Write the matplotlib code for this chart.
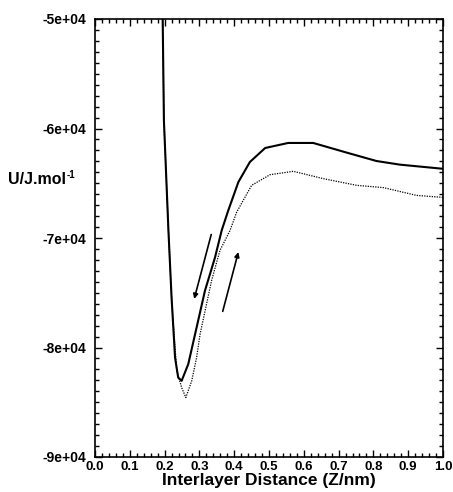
import numpy as np
import matplotlib
matplotlib.use('Agg')
import matplotlib.pyplot as plt
from matplotlib.ticker import MultipleLocator, FuncFormatter

# 层间距离 (nm) 和势能 (J/mol)
z_solid = [0.1937, 0.1945, 0.198, 0.211, 0.220, 0.230, 0.239, 0.249, 0.268, 0.292,
           0.316, 0.345, 0.364, 0.383, 0.412, 0.445, 0.489, 0.555, 0.627, 0.733,
           0.809, 0.876, 1.0]
u_solid = [-48000, -50000, -59245, -69310, -75420, -80910, -82740, -83040, -81515, -78165,
           -74810, -71760, -69310, -67480, -64890, -63060, -61780, -61320, -61320, -62290,
           -62970, -63300, -63680]

z_dot = [0.1937, 0.1945, 0.198, 0.211, 0.220, 0.223, 0.235, 0.249, 0.261, 0.278, 0.292,
         0.302, 0.335, 0.359, 0.388, 0.407, 0.450, 0.503, 0.570, 0.656, 0.752,
         0.829, 0.924, 1.0]
u_dot = [-48000, -50000, -59245, -69310, -75420, -76940, -82130, -83660, -84570, -83040, -80910,
         -78770, -73890, -71140, -69310, -67640, -65190, -64220, -63910, -64580, -65190,
         -65400, -66110, -66290]

# 箭头 (起点, 终点)
arrow_down = [(0.334, -69680), (0.285, -75570)]
arrow_up = [(0.367, -76700), (0.412, -71280)]

plt.rcParams['font.family'] = ['Liberation Sans', 'DejaVu Sans']
plt.rcParams['font.weight'] = 'bold'

fig = plt.figure(figsize=(4.53, 4.92), dpi=100)
ax = fig.add_axes([95 / 453, 35 / 492, 348 / 453, 438 / 492])

ax.plot(z_solid, u_solid, color='black', lw=1.5)
ax.plot(z_dot, u_dot, color='black', lw=0.9, ls=(0, (1, 1)))

for a in (arrow_down, arrow_up):
    ax.annotate('', xy=a[1], xytext=a[0],
                arrowprops=dict(arrowstyle='-|>', color='black', lw=1.2,
                                mutation_scale=7, shrinkA=0, shrinkB=0))

ax.set_xlim(0, 1.0)
ax.set_ylim(-90000, -50000)
ax.xaxis.set_major_locator(MultipleLocator(0.1))
ax.xaxis.set_minor_locator(MultipleLocator(0.02))
ax.yaxis.set_major_locator(MultipleLocator(10000))
ax.yaxis.set_minor_locator(MultipleLocator(1000))
ax.xaxis.set_major_formatter(FuncFormatter(lambda v, p: '%.1f' % v))
ax.yaxis.set_major_formatter(FuncFormatter(lambda v, p: '%.0e' % v))

ax.tick_params(which='both', direction='in', top=True, right=True, width=1.0)
ax.tick_params(which='major', length=5, labelsize=10)
ax.tick_params(axis='x', which='major', pad=3, labelsize=9.5)
ax.tick_params(axis='y', which='major', pad=6)
ax.tick_params(which='minor', length=3)
for lab in ax.get_xticklabels() + ax.get_yticklabels():
    lab.set_fontweight('bold')
for s in ax.spines.values():
    s.set_linewidth(1.2)

ax.set_xlabel('Interlayer Distance (Z/nm)', fontsize=12.5, fontweight='bold', labelpad=0)

# y轴标签 + 上标
t = fig.text(8 / 453, 1 - 184 / 492, 'U/J.mol', fontsize=11.5,
             fontweight='bold', va='baseline', ha='left')
fig.canvas.draw()
bb = t.get_window_extent()
fig.text(bb.x1 / 453 + 0.002, 1 - 178 / 492, '-1', fontsize=7,
         fontweight='bold', va='baseline', ha='left')

fig.savefig('out.png', dpi=100)
